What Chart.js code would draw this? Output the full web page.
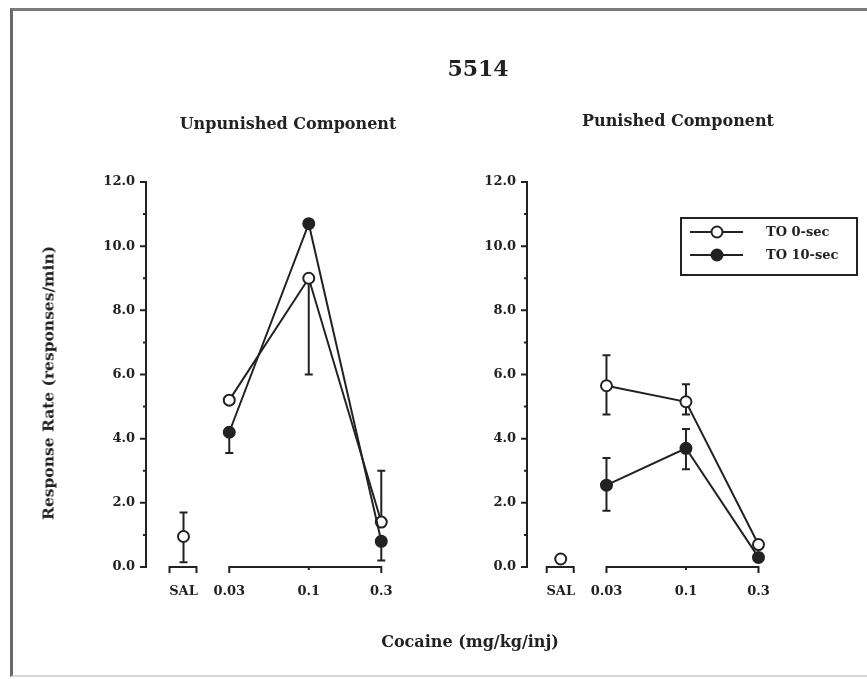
<!DOCTYPE html>
<html><head><meta charset="utf-8">
<script src="https://cdn.jsdelivr.net/npm/chart.js@4.4.1/dist/chart.umd.min.js"></script>
<style>
html,body{margin:0;padding:0;background:#fff;}
#wrap{position:relative;width:867px;height:679px;overflow:hidden;background:#fff;font-family:"DejaVu Serif",serif;font-weight:bold;color:#222;}
.frame{position:absolute;left:10px;top:8px;width:880px;height:664px;border-left:3px solid #6a6a6a;border-top:3px solid #7a7a7a;border-bottom:2px solid #d8d8d8;}
.t{position:absolute;white-space:nowrap;transform:translate(-50%,-50%);}
canvas{position:absolute;top:0;}
</style></head><body>
<div id="wrap">
<div class="frame"></div>
<canvas id="c1" width="440" height="679" style="left:0;width:440px;height:679px"></canvas>
<canvas id="c2" width="427" height="679" style="left:440px;width:427px;height:679px"></canvas>
<div class="t" style="left:478px;top:68px;font-size:22px">5514</div>
<div class="t" style="left:288px;top:123px;font-size:16px">Unpunished Component</div>
<div class="t" style="left:678px;top:120px;font-size:16px">Punished Component</div>
<div class="t" style="left:48px;top:383px;font-size:15.5px;transform:translate(-50%,-50%) rotate(-90deg)">Response Rate (responses/min)</div>
<div class="t" style="left:470px;top:641px;font-size:16px">Cocaine (mg/kg/inj)</div>
</div>
<script>
// ---- data ----
const doses = [0.03, 0.1, 0.3];
const xTickLabels = ['SAL', '0.03', '0.1', '0.3'];
const SAL_X = 0.015; // nominal position for saline on dose axis
const yTickValues = [0, 2, 4, 6, 8, 10, 12];

const unpunishedTO0 = [5.2, 9.0, 1.4];
const unpunishedTO0Low = [null, 6.0, null];
const unpunishedTO0High = [null, null, 3.0];
const unpunishedTO10 = [4.2, 10.7, 0.8];
const unpunishedTO10Low = [3.55, null, 0.2];
const unpunishedTO10High = [null, null, null];
const unpunishedSal = [0.95];
const unpunishedSalLow = [0.15];
const unpunishedSalHigh = [1.7];

const punishedTO0 = [5.65, 5.15, 0.7];
const punishedTO0Low = [4.75, 4.75, null];
const punishedTO0High = [6.6, 5.7, null];
const punishedTO10 = [2.55, 3.7, 0.3];
const punishedTO10Low = [1.75, 3.05, null];
const punishedTO10High = [3.4, 4.3, null];
const punishedSal = [0.25];
const punishedSalLow = [null];
const punishedSalHigh = [null];

const seriesLabels = ['TO 0-sec', 'TO 10-sec'];

// ---- styles ----
const INK = '#222';
const FONT = 'DejaVu Serif';

const axisPlugin = {
  id: 'axes',
  beforeDatasetsDraw(chart) {
    const {ctx, scales: {x, y}} = chart;
    ctx.save();
    ctx.strokeStyle = INK; ctx.lineWidth = 2; ctx.lineCap = 'butt';
    const L = chart.chartArea.left;
    const y0 = y.getPixelForValue(0), yTop = y.getPixelForValue(12);
    ctx.beginPath();
    ctx.moveTo(L, y0 + 1); ctx.lineTo(L, yTop - 1);
    for (let v = 0; v <= 12; v++) {
      const py = y.getPixelForValue(v);
      const len = v % 2 ? 3 : 6;
      ctx.moveTo(L + 1, py); ctx.lineTo(L - len, py);
    }
    const xa = x.getPixelForValue(doses[0]);
    const xb = x.getPixelForValue(doses[doses.length - 1]);
    ctx.moveTo(xa, y0); ctx.lineTo(xb, y0);
    doses.forEach((d, i) => {
      const px = x.getPixelForValue(d);
      const len = (i === 0 || i === doses.length - 1) ? 6 : 3;
      ctx.moveTo(px, y0 - 1); ctx.lineTo(px, y0 + len);
    });
    const xs = x.getPixelForValue(SAL_X);
    ctx.moveTo(xs - 14, y0 + 6); ctx.lineTo(xs - 14, y0);
    ctx.lineTo(xs + 13, y0); ctx.lineTo(xs + 13, y0 + 6);
    ctx.stroke();
    ctx.restore();
  }
};

const errorPlugin = {
  id: 'errbars',
  beforeDatasetsDraw(chart) {
    const {ctx, scales: {x, y}} = chart;
    ctx.save();
    ctx.strokeStyle = INK; ctx.lineWidth = 2;
    chart.data.datasets.forEach(ds => {
      ds.data.forEach((pt, i) => {
        const px = x.getPixelForValue(pt.x), pv = y.getPixelForValue(pt.y);
        [ds.errLow && ds.errLow[i], ds.errHigh && ds.errHigh[i]].forEach(b => {
          if (b === null || b === undefined) return;
          const pb = y.getPixelForValue(b);
          ctx.beginPath();
          ctx.moveTo(px, pv); ctx.lineTo(px, pb);
          ctx.moveTo(px - 4, pb); ctx.lineTo(px + 4, pb);
          ctx.stroke();
        });
      });
    });
    ctx.restore();
  }
};

const legendPlugin = {
  id: 'boxLegend',
  afterDraw(chart) {
    const {ctx} = chart;
    ctx.save();
    ctx.strokeStyle = INK; ctx.lineWidth = 2;
    ctx.strokeRect(241, 218, 176, 57);
    const rows = [{ds: chart.data.datasets[1], yy: 232}, {ds: chart.data.datasets[0], yy: 255}];
    rows.forEach(r => {
      ctx.beginPath(); ctx.moveTo(250, r.yy); ctx.lineTo(303, r.yy); ctx.stroke();
      ctx.beginPath(); ctx.arc(277, r.yy, r.ds.pointRadius, 0, Math.PI * 2);
      ctx.fillStyle = r.ds.pointBackgroundColor; ctx.fill();
      ctx.lineWidth = r.ds.pointBorderWidth; ctx.stroke();
      ctx.fillStyle = INK; ctx.font = 'bold 13px "' + FONT + '"';
      ctx.textBaseline = 'middle'; ctx.textAlign = 'left';
      ctx.fillText(r.ds.label, 326, r.yy + 1);
    });
    ctx.restore();
  }
};

function pts(vals) { return vals.map((v, i) => ({x: doses[i], y: v})); }

function makePanel(canvasId, p) {
  const datasets = [
    {label: seriesLabels[1], data: pts(p.to10), errLow: p.to10Low, errHigh: p.to10High,
     borderColor: INK, backgroundColor: INK, pointBackgroundColor: INK, pointBorderColor: INK,
     pointRadius: 5.5, pointBorderWidth: 2, borderWidth: 2, tension: 0, order: 0},
    {label: seriesLabels[0], data: pts(p.to0), errLow: p.to0Low, errHigh: p.to0High,
     borderColor: INK, backgroundColor: '#fff', pointBackgroundColor: '#fff', pointBorderColor: INK,
     pointRadius: 5.5, pointBorderWidth: 2, borderWidth: 2, tension: 0, order: 1},
    {label: 'SAL ' + seriesLabels[0], data: p.sal.map(v => ({x: SAL_X, y: v})), errLow: p.salLow, errHigh: p.salHigh,
     showLine: false, borderColor: INK, backgroundColor: '#fff', pointBackgroundColor: '#fff', pointBorderColor: INK,
     pointRadius: 5.5, pointBorderWidth: 2, borderWidth: 2, order: 1}
  ];
  const plugins = [axisPlugin, errorPlugin];
  if (p.legend) plugins.push(legendPlugin);
  return new Chart(document.getElementById(canvasId), {
    type: 'line',
    data: {datasets},
    options: {
      responsive: false, animation: false, devicePixelRatio: 1,
      layout: {padding: {left: 0, top: 182, right: p.padRight, bottom: 62}},
      plugins: {legend: {display: false}, tooltip: {enabled: false}},
      scales: {
        x: {type: 'logarithmic', min: p.xMin, max: 0.42, bounds: 'data',
            afterBuildTicks: s => { s.ticks = [SAL_X].concat(doses).map(v => ({value: v})); },
            afterFit: s => { s.height = 50; },
            grid: {display: false, drawTicks: false}, border: {display: false},
            ticks: {callback: (v, i) => xTickLabels[i], color: INK, padding: 17, maxRotation: 0, autoSkip: false,
                    font: {family: FONT, weight: 'bold', size: 13}}},
        y: {type: 'linear', min: 0, max: 12,
            afterBuildTicks: s => { s.ticks = yTickValues.map(v => ({value: v})); },
            afterFit: s => { s.width = p.yWidth; },
            grid: {display: false, drawTicks: false}, border: {display: false},
            ticks: {callback: v => v.toFixed(1), color: INK, padding: 11,
                    font: {family: FONT, weight: 'bold', size: 13}}}
      }
    },
    plugins
  });
}

makePanel('c1', {to0: unpunishedTO0, to0Low: unpunishedTO0Low, to0High: unpunishedTO0High,
  to10: unpunishedTO10, to10Low: unpunishedTO10Low, to10High: unpunishedTO10High,
  sal: unpunishedSal, salLow: unpunishedSalLow, salHigh: unpunishedSalHigh,
  xMin: 0.0085, yWidth: 146, padRight: 36.5, legend: false});
makePanel('c2', {to0: punishedTO0, to0Low: punishedTO0Low, to0High: punishedTO0High,
  to10: punishedTO10, to10Low: punishedTO10Low, to10High: punishedTO10High,
  sal: punishedSal, salLow: punishedSalLow, salHigh: punishedSalHigh,
  xMin: 0.009, yWidth: 87, padRight: 86.3, legend: true});
</script>
</body></html>
